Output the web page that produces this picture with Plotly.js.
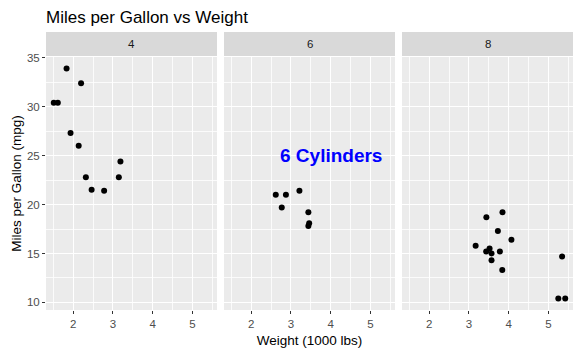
<!DOCTYPE html>
<html><head><meta charset="utf-8">
<script src="https://cdn.plot.ly/plotly-3.0.1.min.js"></script>
<style>body{margin:0;padding:0;}#chart{width:581px;height:355px;}</style>
</head><body><div id="chart"></div>
<script>
// mtcars, faceted by cylinders
const cylLevels = ["4", "6", "8"];
const wt4 = [2.320, 3.190, 3.150, 2.200, 1.615, 1.835, 2.465, 1.935, 2.140, 1.513, 2.780];
const mpg4 = [22.8, 24.4, 22.8, 32.4, 30.4, 33.9, 21.5, 27.3, 26.0, 30.4, 21.4];
const wt6 = [2.620, 2.875, 3.215, 3.460, 3.440, 3.440, 2.770];
const mpg6 = [21.0, 21.0, 21.4, 18.1, 19.2, 17.8, 19.7];
const wt8 = [3.440, 3.570, 4.070, 3.730, 3.780, 5.250, 5.424, 5.345, 3.520, 3.435, 3.840, 3.845, 3.170, 3.570];
const mpg8 = [18.7, 14.3, 16.4, 17.3, 15.2, 10.4, 10.4, 14.7, 15.5, 15.2, 13.3, 19.2, 15.8, 15.0];
const xTicks = [2, 3, 4, 5];
const yTicks = [10, 15, 20, 25, 30, 35];
const labelText = "6 Cylinders";
const labelPos = {x: 4, y: 25};

const wts = [wt4, wt6, wt8];
const mpgs = [mpg4, mpg6, mpg8];
const allW = wts.flat(), allM = mpgs.flat();
const wmin = Math.min(...allW), wmax = Math.max(...allW);
const mmin = Math.min(...allM), mmax = Math.max(...allM);
const xr = [wmin - 0.05*(wmax-wmin), wmax + 0.05*(wmax-wmin)];
const yr = [mmin - 0.05*(mmax-mmin), mmax + 0.05*(mmax-mmin)];

const font = "Liberation Sans, Arial, sans-serif";
const traces = wts.map((w, i) => ({
  x: w, y: mpgs[i], type: "scatter", mode: "markers",
  xaxis: i === 0 ? "x" : "x" + (i+1), yaxis: "y",
  marker: {color: "black", size: 6}, showlegend: false, hoverinfo: "x+y"
}));

const domains = [[0, 171/527], [178/527, 349/527], [356/527, 1]];
const layout = {
  width: 581, height: 355,
  margin: {l: 46, r: 8, t: 57, b: 45},
  paper_bgcolor: "white", plot_bgcolor: "#EBEBEB",
  font: {family: font},
  title: {text: "Miles per Gallon vs Weight", x: 46/581, xanchor: "left", xref: "container",
          y: 1 - 17/355, yanchor: "middle", yref: "container",
          font: {size: 17, color: "black", family: font}},
  yaxis: {range: yr, tickvals: yTicks, ticks: "outside", ticklen: 3, tickcolor: "#333333",
          tickfont: {size: 11.5, color: "#4D4D4D"}, gridcolor: "white", gridwidth: 1.1,
          zeroline: false, showline: false,
          minor: {showgrid: true, gridcolor: "white", gridwidth: 0.8, dtick: 2.5, tick0: 12.5, ticks: ""},
          title: {text: "Miles per Gallon (mpg)", font: {size: 13.5, color: "black"}, standoff: 2}},
  annotations: [],
  shapes: []
};
for (let i = 0; i < 3; i++) {
  const key = i === 0 ? "xaxis" : "xaxis" + (i+1);
  layout[key] = {
    domain: domains[i], range: xr, tickvals: xTicks, ticks: "outside", ticklen: 3, tickcolor: "#333333",
    tickfont: {size: 11.5, color: "#4D4D4D"}, gridcolor: "white", gridwidth: 1.1,
    zeroline: false, showline: false, anchor: "y",
    minor: {showgrid: true, gridcolor: "white", gridwidth: 0.8, dtick: 1, tick0: 1.5, ticks: ""}
  };
  if (i === 1) layout[key].title = {text: "Weight (1000 lbs)", font: {size: 13.5, color: "black"}, standoff: 6};
  layout.shapes.push({type: "rect", xref: "paper", yref: "paper",
    x0: domains[i][0], x1: domains[i][1], y0: 1 + 1/253, y1: 1 + 25/253,
    fillcolor: "#D9D9D9", line: {width: 0}, layer: "below"});
  layout.annotations.push({xref: "paper", yref: "paper", x: (domains[i][0]+domains[i][1])/2,
    y: 1 + 13/253, text: cylLevels[i], showarrow: false, xanchor: "center", yanchor: "middle",
    font: {size: 11.5, color: "#1A1A1A"}});
}
layout.annotations.push({xref: "x2", yref: "y", x: labelPos.x, y: labelPos.y, text: "<b>" + labelText + "</b>",
  showarrow: false, xanchor: "center", yanchor: "middle", font: {size: 19, color: "blue"}});

Plotly.newPlot("chart", traces, layout, {displayModeBar: false, staticPlot: true});
</script></body></html>
